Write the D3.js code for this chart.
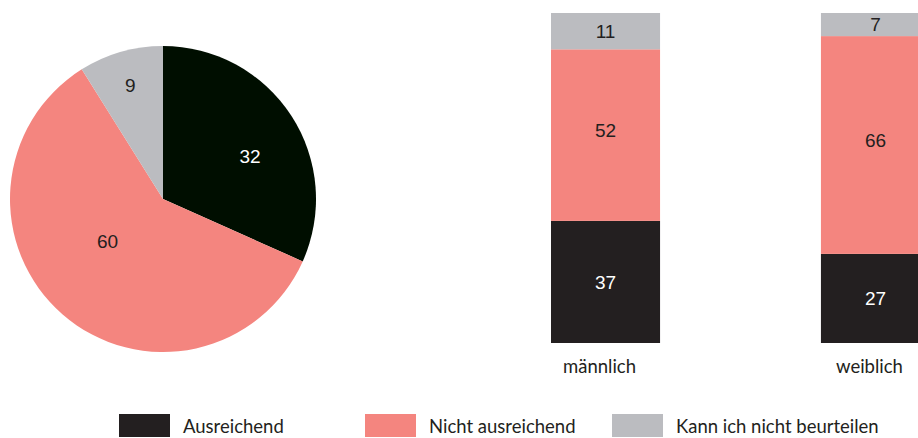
<!DOCTYPE html>
<html>
<head>
<meta charset="utf-8">
<script src="https://cdnjs.cloudflare.com/ajax/libs/d3/7.8.5/d3.min.js"></script>
<style>
body { margin: 0; background: #fff; overflow: hidden; }
</style>
</head>
<body>
<div id="root"></div>
<script>
var width = 918;
var height = 438;

// data
var categories = ["Ausreichend", "Nicht ausreichend", "Kann ich nicht beurteilen"];
var totalValues = [32, 60, 9];
var groups = ["männlich", "weiblich"];
var maleValues = [37, 52, 11];
var femaleValues = [27, 66, 7];

var pieColors = ["#000e00", "#f4857f", "#bbbcc0"];
var barColors = ["#231f20", "#f4857f", "#bbbcc0"];
var labelColors = ["#fff", "#231f20", "#231f20"];

var svg = d3.select("#root")
.append("svg")
.attr("width", width)
.attr("height", height);

/* pie, starts at 12 o'clock, clockwise */
var R = 153;
var pie = d3.pie().sort(null).value(function(d){ return d; });
var arc = d3.arc().innerRadius(0).outerRadius(R);
var labelR = [97, 70, 118];        // label distance from centre per slice
var labelShift = [0.12, 0.2, 0];   // small angle nudge per slice

var pieG = svg.append("g").attr("transform", "translate(163,199)");
var arcs = pie(totalValues);

pieG.selectAll("path")
.data(arcs)
.enter()
.append("path")
.attr("d", arc)
.attr("fill", function(d, i){ return pieColors[i]; });

pieG.selectAll("text")
.data(arcs)
.enter()
.append("text")
.attr("transform", function(d, i){
	var a = (d.startAngle + d.endAngle) / 2 + labelShift[i];
	return "translate(" + (Math.sin(a) * labelR[i]) + "," + (-Math.cos(a) * labelR[i]) + ")";
})
.attr("dy", "0.35em")
.attr("text-anchor", "middle")
.attr("font-family", "'Liberation Sans', Arial, sans-serif")
.attr("font-size", "19px")
.attr("fill", function(d, i){ return labelColors[i]; })
.text(function(d){ return d.data; });

/* stacked bars */
var x = d3.scaleBand()
.domain(groups)
.range([551, 930])
.paddingInner(0.596);

var y = d3.scaleLinear()
.domain([0, 100])
.range([343, 13]);

var series = [maleValues, femaleValues];

series.forEach(function(vals, gi){
	var acc = 0;
	var g = svg.append("g");
	vals.forEach(function(v, ci){
		var y0 = acc, y1 = acc + v;
		acc = y1;
		g.append("rect")
		.attr("x", x(groups[gi]))
		.attr("width", x.bandwidth())
		.attr("y", y(y1))
		.attr("height", y(y0) - y(y1))
		.attr("fill", barColors[ci]);
		g.append("text")
		.attr("x", x(groups[gi]) + x.bandwidth() / 2)
		.attr("y", (y(y0) + y(y1)) / 2 - (ci == 1 ? 5 : 0))
		.attr("dy", "0.35em")
		.attr("text-anchor", "middle")
		.attr("font-family", "'Liberation Sans', Arial, sans-serif")
		.attr("font-size", "19px")
		.attr("fill", labelColors[ci])
		.text(v);
	});
	svg.append("text")
	.attr("x", x(groups[gi]) + x.bandwidth() / 2 - 6)
	.attr("y", 373)
	.attr("text-anchor", "middle")
	.attr("font-family", "Lato, sans-serif")
	.attr("font-size", "18.5px")
	.attr("fill", "#231f20")
	.text(groups[gi]);
});

/* legend */
var legendX = [119, 365, 612];
var legend = svg.append("g").attr("class", "key");

legend.selectAll("rect")
.data(categories)
.enter()
.append("rect")
.attr("x", function(d, i){ return legendX[i]; })
.attr("y", 414)
.attr("width", 51)
.attr("height", 23)
.attr("fill", function(d, i){ return barColors[i]; });

legend.selectAll("text")
.data(categories)
.enter()
.append("text")
.attr("x", function(d, i){ return legendX[i] + 64; })
.attr("y", 433)
.attr("font-family", "Lato, sans-serif")
.attr("font-size", "18.5px")
.attr("fill", "#231f20")
.text(function(d){ return d; });
</script>
</body>
</html>
